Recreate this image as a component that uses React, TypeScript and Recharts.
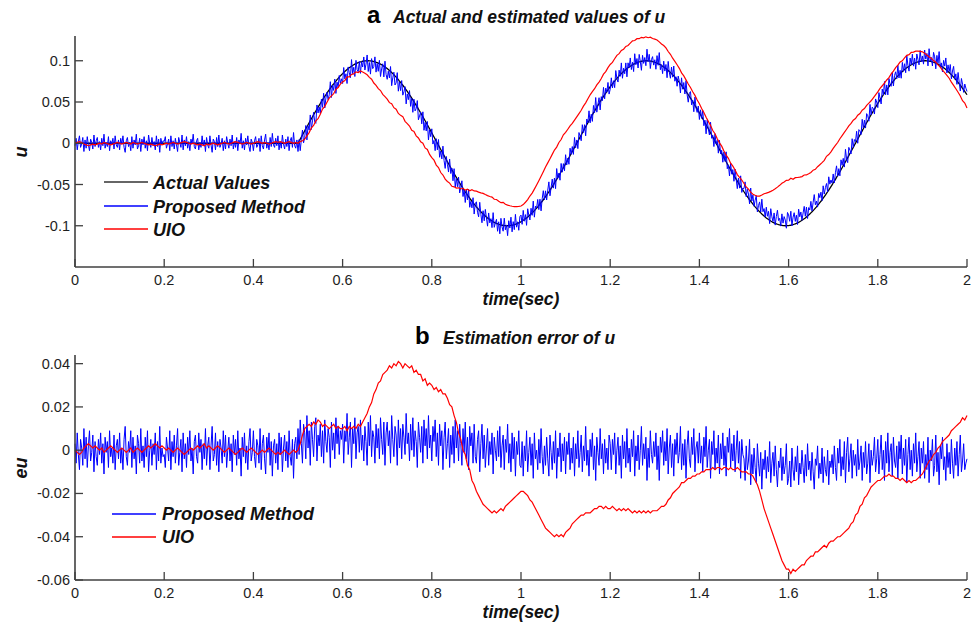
import React from "react";
import { LineChart, Line, XAxis, YAxis } from "recharts";

const FONT = '"Liberation Sans", Arial, sans-serif';
const FINE_STEP = 0.0025; // actual u and proposed-method error
const COARSE_STEP = 0.005; // UIO error

const timeTicks = [0, 0.2, 0.4, 0.6, 0.8, 1, 1.2, 1.4, 1.6, 1.8, 2];
const uTicks = [-0.1, -0.05, 0, 0.05, 0.1];
const euTicks = [-0.06, -0.04, -0.02, 0, 0.02, 0.04];

// actual u, every 0.0025 s from 0 to 2 s
const actualU = [
  // 0 - 0.4975
  0, 0, 0, 0, 0, 0, 0, 0, 0, 0, 0, 0, 0, 0, 0, 0, 0, 0, 0, 0,
  0, 0, 0, 0, 0, 0, 0, 0, 0, 0, 0, 0, 0, 0, 0, 0, 0, 0, 0, 0,
  0, 0, 0, 0, 0, 0, 0, 0, 0, 0, 0, 0, 0, 0, 0, 0, 0, 0, 0, 0,
  0, 0, 0, 0, 0, 0, 0, 0, 0, 0, 0, 0, 0, 0, 0, 0, 0, 0, 0, 0,
  0, 0, 0, 0, 0, 0, 0, 0, 0, 0, 0, 0, 0, 0, 0, 0, 0, 0, 0, 0,
  0, 0, 0, 0, 0, 0, 0, 0, 0, 0, 0, 0, 0, 0, 0, 0, 0, 0, 0, 0,
  0, 0, 0, 0, 0, 0, 0, 0, 0, 0, 0, 0, 0, 0, 0, 0, 0, 0, 0, 0,
  0, 0, 0, 0, 0, 0, 0, 0, 0, 0, 0, 0, 0, 0, 0, 0, 0, 0, 0, 0,
  0, 0, 0, 0, 0, 0, 0, 0, 0, 0, 0, 0, 0, 0, 0, 0, 0, 0, 0, 0,
  0, 0, 0, 0, 0, 0, 0, 0, 0, 0, 0, 0, 0, 0, 0, 0, 0, 0, 0, 0,
  // 0.5 - 1.1225
  0, 0.0025, 0.005, 0.0075, 0.01, 0.0125, 0.015, 0.0175, 0.02, 0.0224, 0.0249, 0.0273, 0.0297, 0.0321, 0.0345, 0.0368,
  0.0391, 0.0414, 0.0437, 0.046, 0.0482, 0.0504, 0.0525, 0.0546, 0.0567, 0.0588, 0.0608, 0.0628, 0.0647, 0.0666, 0.0685, 0.0703,
  0.072, 0.0738, 0.0754, 0.0771, 0.0786, 0.0802, 0.0816, 0.0831, 0.0844, 0.0858, 0.087, 0.0882, 0.0894, 0.0905, 0.0915, 0.0925,
  0.0934, 0.0943, 0.0951, 0.0959, 0.0965, 0.0972, 0.0977, 0.0982, 0.0987, 0.099, 0.0994, 0.0996, 0.0998, 0.0999, 0.1,
  0.1, 0.0999, 0.0998, 0.0996, 0.0994, 0.099, 0.0987, 0.0982, 0.0977, 0.0972, 0.0965, 0.0959, 0.0951, 0.0943, 0.0934, 0.0925,
  0.0915, 0.0905, 0.0894, 0.0882, 0.087, 0.0858, 0.0844, 0.0831, 0.0816, 0.0802, 0.0786, 0.0771, 0.0754, 0.0738, 0.072, 0.0703,
  0.0685, 0.0666, 0.0647, 0.0628, 0.0608, 0.0588, 0.0567, 0.0546, 0.0525, 0.0504, 0.0482, 0.046, 0.0437, 0.0414, 0.0391, 0.0368,
  0.0345, 0.0321, 0.0297, 0.0273, 0.0249, 0.0224, 0.02, 0.0175, 0.015, 0.0125, 0.01, 0.0075, 0.005, 0.0025, 0,
  -0.0025, -0.005, -0.0075, -0.01, -0.0125, -0.015, -0.0175, -0.02, -0.0224, -0.0249, -0.0273, -0.0297, -0.0321, -0.0345, -0.0368,
  -0.0391, -0.0414, -0.0437, -0.046, -0.0482, -0.0504, -0.0525, -0.0546, -0.0567, -0.0588, -0.0608, -0.0628, -0.0647, -0.0666, -0.0685, -0.0703,
  -0.072, -0.0738, -0.0754, -0.0771, -0.0786, -0.0802, -0.0816, -0.0831, -0.0844, -0.0858, -0.087, -0.0882, -0.0894, -0.0905, -0.0915, -0.0925,
  -0.0934, -0.0943, -0.0951, -0.0959, -0.0965, -0.0972, -0.0977, -0.0982, -0.0987, -0.099, -0.0994, -0.0996, -0.0998, -0.0999, -0.1,
  -0.1, -0.0999, -0.0998, -0.0996, -0.0994, -0.099, -0.0987, -0.0982, -0.0977, -0.0972, -0.0965, -0.0959, -0.0951, -0.0943, -0.0934, -0.0925,
  -0.0915, -0.0905, -0.0894, -0.0882, -0.087, -0.0858, -0.0844, -0.0831, -0.0816, -0.0802, -0.0786, -0.0771, -0.0754, -0.0738, -0.072, -0.0703,
  -0.0685, -0.0666, -0.0647, -0.0628, -0.0608, -0.0588, -0.0567, -0.0546, -0.0525, -0.0504, -0.0482, -0.046, -0.0437, -0.0414, -0.0391, -0.0368,
  -0.0345, -0.0321, -0.0297, -0.0273, -0.0249, -0.0224, -0.02, -0.0175, -0.015, -0.0125, -0.01, -0.0075, -0.005, -0.0025,
  // 1.125 - 1.7475
  0, 0.0025, 0.005, 0.0075, 0.01, 0.0125, 0.015, 0.0175, 0.02, 0.0224, 0.0249, 0.0273, 0.0297, 0.0321, 0.0345, 0.0368,
  0.0391, 0.0414, 0.0437, 0.046, 0.0482, 0.0504, 0.0525, 0.0546, 0.0567, 0.0588, 0.0608, 0.0628, 0.0647, 0.0666, 0.0685, 0.0703,
  0.072, 0.0738, 0.0754, 0.0771, 0.0786, 0.0802, 0.0816, 0.0831, 0.0844, 0.0858, 0.087, 0.0882, 0.0894, 0.0905, 0.0915, 0.0925,
  0.0934, 0.0943, 0.0951, 0.0959, 0.0965, 0.0972, 0.0977, 0.0982, 0.0987, 0.099, 0.0994, 0.0996, 0.0998, 0.0999, 0.1,
  0.1, 0.0999, 0.0998, 0.0996, 0.0994, 0.099, 0.0987, 0.0982, 0.0977, 0.0972, 0.0965, 0.0959, 0.0951, 0.0943, 0.0934, 0.0925,
  0.0915, 0.0905, 0.0894, 0.0882, 0.087, 0.0858, 0.0844, 0.0831, 0.0816, 0.0802, 0.0786, 0.0771, 0.0754, 0.0738, 0.072, 0.0703,
  0.0685, 0.0666, 0.0647, 0.0628, 0.0608, 0.0588, 0.0567, 0.0546, 0.0525, 0.0504, 0.0482, 0.046, 0.0437, 0.0414, 0.0391, 0.0368,
  0.0345, 0.0321, 0.0297, 0.0273, 0.0249, 0.0224, 0.02, 0.0175, 0.015, 0.0125, 0.01, 0.0075, 0.005, 0.0025, 0,
  -0.0025, -0.005, -0.0075, -0.01, -0.0125, -0.015, -0.0175, -0.02, -0.0224, -0.0249, -0.0273, -0.0297, -0.0321, -0.0345, -0.0368,
  -0.0391, -0.0414, -0.0437, -0.046, -0.0482, -0.0504, -0.0525, -0.0546, -0.0567, -0.0588, -0.0608, -0.0628, -0.0647, -0.0666, -0.0685, -0.0703,
  -0.072, -0.0738, -0.0754, -0.0771, -0.0786, -0.0802, -0.0816, -0.0831, -0.0844, -0.0858, -0.087, -0.0882, -0.0894, -0.0905, -0.0915, -0.0925,
  -0.0934, -0.0943, -0.0951, -0.0959, -0.0965, -0.0972, -0.0977, -0.0982, -0.0987, -0.099, -0.0994, -0.0996, -0.0998, -0.0999, -0.1,
  -0.1, -0.0999, -0.0998, -0.0996, -0.0994, -0.099, -0.0987, -0.0982, -0.0977, -0.0972, -0.0965, -0.0959, -0.0951, -0.0943, -0.0934, -0.0925,
  -0.0915, -0.0905, -0.0894, -0.0882, -0.087, -0.0858, -0.0844, -0.0831, -0.0816, -0.0802, -0.0786, -0.0771, -0.0754, -0.0738, -0.072, -0.0703,
  -0.0685, -0.0666, -0.0647, -0.0628, -0.0608, -0.0588, -0.0567, -0.0546, -0.0525, -0.0504, -0.0482, -0.046, -0.0437, -0.0414, -0.0391, -0.0368,
  -0.0345, -0.0321, -0.0297, -0.0273, -0.0249, -0.0224, -0.02, -0.0175, -0.015, -0.0125, -0.01, -0.0075, -0.005, -0.0025,
  // 1.75 - 2.0
  0, 0.0025, 0.005, 0.0075, 0.01, 0.0125, 0.015, 0.0175, 0.02, 0.0224, 0.0249, 0.0273, 0.0297, 0.0321, 0.0345, 0.0368,
  0.0391, 0.0414, 0.0437, 0.046, 0.0482, 0.0504, 0.0525, 0.0546, 0.0567, 0.0588, 0.0608, 0.0628, 0.0647, 0.0666, 0.0685, 0.0703,
  0.072, 0.0738, 0.0754, 0.0771, 0.0786, 0.0802, 0.0816, 0.0831, 0.0844, 0.0858, 0.087, 0.0882, 0.0894, 0.0905, 0.0915, 0.0925,
  0.0934, 0.0943, 0.0951, 0.0959, 0.0965, 0.0972, 0.0977, 0.0982, 0.0987, 0.099, 0.0994, 0.0996, 0.0998, 0.0999, 0.1,
  0.1, 0.0999, 0.0998, 0.0996, 0.0994, 0.099, 0.0987, 0.0982, 0.0977, 0.0972, 0.0965, 0.0959, 0.0951, 0.0943, 0.0934, 0.0925,
  0.0915, 0.0905, 0.0894, 0.0882, 0.087, 0.0858, 0.0844, 0.0831, 0.0816, 0.0802, 0.0786, 0.0771, 0.0754, 0.0738, 0.072, 0.0703,
  0.0685, 0.0666, 0.0647, 0.0628, 0.0608, 0.0588,
];

// proposed method error (actual - estimate), every 0.0025 s
const errProposed = [
  0.003, -0.006, 0.008, -0.002, -0.009, 0.005, 0.001, -0.007, 0.01, -0.004, 0.006, -0.008, 0.002, 0.009, -0.005, -0.001, 0.007, -0.01, 0.004, -0.003,
  -0.007, 0.005, -0.002, 0.008, -0.006, 0.003, -0.011, 0.006, -0.001, 0.004, -0.008, 0.009, -0.003, 0.001, -0.006, 0.007, -0.009, 0.002, 0.005, -0.004,
  0.008, -0.006, 0.001, -0.009, 0.005, 0.011, -0.003, -0.007, 0.004, -0.001, 0.009, -0.008, 0.006, -0.004, 0.002, -0.011, 0.007, 0.003, -0.006, 0.01,
  -0.005, 0.002, -0.008, 0.006, -0.003, 0.009, -0.01, 0, 0.005, -0.007, 0.003, -0.002, 0.008, -0.009, 0.004, -0.005, 0.011, -0.006, 0.001, -0.003,
  -0.002, -0.008, 0.006, 0.001, -0.005, 0.009, -0.009, 0.004, -0.003, 0.007, -0.006, 0.002, 0.01, -0.007, -0.001, 0.005, -0.01, 0.008, -0.004, 0.003,
  -0.008, 0.006, -0.002, 0.009, -0.005, 0.001, -0.011, 0.004, 0.007, -0.003, -0.006, 0.008, -0.001, 0.005, -0.009, 0.003, -0.004, 0.01, -0.007, 0.002,
  0.006, -0.009, 0.002, 0.011, -0.005, -0.002, 0.008, -0.007, 0.004, -0.01, 0.005, 0.001, -0.006, 0.009, -0.003, 0.007, -0.008, 0, 0.006, -0.005,
  0.003, -0.01, 0.007, -0.002, 0.005, -0.007, 0.009, -0.004, 0.001, -0.012, 0.006, -0.003, 0.008, -0.006, 0.002, -0.009, 0.004, 0.01, -0.005, -0.001,
  0.009, -0.003, -0.008, 0.005, 0.002, -0.006, 0.01, -0.009, 0.003, 0.007, -0.004, -0.011, 0.006, -0.001, 0.008, -0.007, 0.004, -0.012, 0.002, 0.005,
  -0.006, 0.003, -0.009, 0.008, -0.002, 0.006, -0.01, 0.001, 0.007, -0.005, 0.004, -0.008, 0.009, -0.003, -0.007, 0.005, -0.013, 0.003, 0.006, -0.004,
  0.01, -0.002, 0.014, 0.003, -0.006, 0.012, 0.008, -0.004, 0.016, 0.001, 0.009, -0.007, 0.013, 0.005, -0.003, 0.011, 0.015, -0.005, 0.007, 0.002,
  0.012, -0.003, 0.009, -0.006, 0.014, 0.004, -0.001, 0.01, 0.006, -0.008, 0.013, 0, 0.008, -0.004, 0.015, 0.003, 0.011, -0.002, 0.009, 0.005,
  0.012, -0.006, 0.009, 0.004, 0.017, -0.002, 0.006, 0.013, -0.008, 0.01, 0.003, 0.015, -0.004, 0.008, 0.011, -0.001, 0.014, 0, 0.007, -0.005,
  0.011, 0.004, -0.007, 0.013, 0.002, 0.016, -0.003, 0.009, 0.006, -0.006, 0.012, 0.001, 0.01, -0.004, 0.015, 0.005, -0.002, 0.013, -0.007, 0.008,
  0.013, 0.002, 0.009, -0.006, 0.016, 0.005, -0.003, 0.011, 0.007, -0.007, 0.014, 0.001, 0.01, -0.004, 0.012, 0.006, -0.002, 0.017, 0.003, 0.008,
  -0.005, 0.012, 0, 0.015, -0.003, 0.009, 0.004, -0.008, 0.013, 0.006, -0.001, 0.011, -0.006, 0.014, 0.002, 0.01, -0.004, 0.016, 0.001, 0.007,
  -0.005, 0.011, 0.004, 0.014, -0.003, 0.008, -0.007, 0.012, 0.002, 0.009, -0.009, 0.006, 0.013, -0.004, 0.003, 0.01, -0.008, 0.007, -0.002, 0.011,
  -0.006, 0.014, 0.001, 0.009, -0.005, 0.012, 0.003, -0.007, 0.01, -0.001, 0.013, -0.004, 0.006, -0.009, 0.011, 0.002, 0.008, -0.006, 0.012, -0.003,
  -0.006, 0.005, 0.009, -0.01, 0.003, 0.012, -0.004, 0.007, -0.008, 0.001, 0.01, -0.007, 0.004, -0.002, 0.008, -0.011, 0.006, 0, -0.005, 0.009,
  -0.003, 0.011, -0.008, 0.002, 0.007, -0.009, 0.005, -0.001, 0.012, -0.006, 0.003, -0.01, 0.008, -0.004, 0.006, -0.012, 0.004, -0.002, 0.009, -0.007,
  -0.008, 0.004, -0.012, 0.002, -0.005, 0.009, -0.01, -0.001, 0.006, -0.007, 0.003, -0.013, 0.008, -0.004, 0, -0.009, 0.005, -0.006, 0.01, -0.003,
  -0.011, 0.002, -0.007, 0.006, -0.004, -0.012, 0.007, -0.001, -0.009, 0.004, -0.006, 0.009, -0.013, 0.001, -0.003, 0.008, -0.01, 0.003, -0.005, 0.006,
  -0.011, 0.004, -0.002, 0.008, -0.009, 0.001, -0.006, 0.006, -0.012, 0.003, -0.004, 0.009, -0.008, -0.001, 0.007, -0.01, 0.002, -0.005, 0.011, -0.007,
  0, -0.012, 0.005, -0.003, 0.008, -0.009, 0.002, -0.014, 0.006, -0.001, -0.007, 0.01, -0.004, 0.003, -0.011, 0.005, -0.006, 0.001, -0.009, 0.007,
  0.003, -0.009, 0.005, -0.002, 0.008, -0.011, 0, 0.006, -0.007, 0.002, -0.013, 0.007, -0.004, 0.004, -0.008, 0.01, -0.006, 0.001, -0.01, 0.005,
  -0.003, 0.009, -0.012, 0.002, -0.005, 0.007, -0.009, 0, 0.011, -0.007, 0.003, -0.004, 0.006, -0.014, 0.001, -0.008, 0.009, -0.002, -0.006, 0.004,
  -0.003, 0.008, -0.009, 0.002, -0.014, 0.006, -0.001, 0.009, -0.007, 0.004, -0.005, 0.01, -0.011, 0.001, 0.007, -0.008, 0.003, -0.012, 0.005, -0.002,
  0.008, -0.006, -0.001, 0.011, -0.009, 0.003, -0.007, 0.005, -0.013, 0.002, 0.009, -0.004, -0.008, 0.006, -0.002, 0.01, -0.01, 0.001, 0.004, -0.006,
  0.008, -0.006, 0.002, -0.01, 0.006, -0.003, 0.011, -0.008, 0, 0.005, -0.013, 0.004, -0.002, 0.009, -0.009, 0.001, -0.006, 0.007, -0.011, 0.003,
  -0.004, 0.008, -0.007, 0.002, -0.012, 0.006, -0.001, 0.01, -0.008, 0.003, -0.005, 0.007, -0.01, 0, 0.009, -0.006, 0.004, -0.013, 0.005, -0.002,
  -0.004, -0.014, 0.002, -0.009, -0.005, 0.005, -0.016, -0.002, -0.011, 0.001, -0.008, -0.015, 0.003, -0.006, -0.012, -0.001, -0.018, -0.004, -0.009, 0,
  -0.013, -0.003, -0.01, 0.004, -0.015, -0.006, -0.001, -0.012, 0.002, -0.009, -0.017, -0.005, -0.008, 0.001, -0.014, -0.003, -0.011, -0.007, 0.003, -0.016,
  -0.013, -0.005, -0.017, 0.001, -0.009, -0.014, -0.003, -0.01, 0.002, -0.016, -0.006, -0.011, 0, -0.008, -0.015, -0.002, -0.012, 0.003, -0.009, -0.005,
  -0.014, -0.001, -0.01, -0.018, -0.004, -0.007, 0.002, -0.013, -0.006, -0.011, 0.001, -0.015, -0.003, -0.009, -0.012, 0, -0.016, -0.005, -0.008, -0.002,
  -0.011, 0.002, -0.008, -0.014, 0.001, -0.006, 0.005, -0.012, -0.003, -0.009, 0.004, -0.015, -0.001, 0.006, -0.01, -0.004, 0.003, -0.013, 0, -0.007,
  -0.002, -0.012, 0.005, -0.009, -0.005, 0.002, -0.014, -0.001, -0.008, 0.004, -0.011, -0.006, 0.003, -0.015, 0, -0.007, -0.003, 0.006, -0.01, -0.004,
  0.005, -0.011, -0.002, 0.007, -0.009, 0, -0.014, 0.004, -0.006, 0.008, -0.01, -0.001, 0.003, -0.012, 0.006, -0.005, -0.008, 0.002, -0.013, 0.004,
  -0.004, 0.007, -0.011, 0.001, -0.007, 0.005, -0.015, -0.002, 0.006, -0.009, 0, -0.012, 0.003, -0.006, 0.008, -0.01, -0.003, 0.004, -0.013, 0.001,
  -0.006, 0.004, -0.013, -0.002, -0.009, 0.006, -0.015, 0, -0.005, 0.005, -0.012, -0.007, 0.007, -0.01, -0.001, -0.016, 0.002, -0.004, 0.006, -0.009,
  -0.003, -0.014, 0.003, -0.008, -0.001, -0.011, 0.005, -0.006, -0.013, 0.001, -0.007, 0.004, -0.012, -0.002, 0.007, -0.01, -0.005, 0.003, -0.009, -0.006,
  -0.004,
];

// UIO error (actual - estimate), every 0.005 s
const errUio = [
  0, -0.001, -0.002, -0.001, 0.001, 0.002, 0.003, 0.002, 0.001, 0.002, 0.001, 0, 0.001, -0.001, 0, 0.001, 0.002, 0.001, 0, -0.001,
  0, 0.001, 0, -0.001, 0, 0.001, -0.001, 0, 0.001, 0, -0.001, 0, 0.001, 0.002, 0.001, 0.002, 0.003, 0.002, 0.001, 0.002,
  0.001, 0, 0.001, 0, -0.001, 0, 0.001, 0, -0.001, -0.002, -0.001, 0, 0.001, 0, 0.001, 0.002, 0.001, 0.002, 0.003, 0.001,
  0.002, 0.001, 0, 0.001, 0.002, 0.001, 0, -0.001, 0, 0.001, 0, -0.001, -0.002, -0.001, 0, 0.001, 0, -0.001, 0, 0.001,
  0, -0.001, -0.002, -0.001, 0, -0.001, 0, 0.001, 0, -0.001, -0.002, -0.001, -0.002, -0.001, 0, -0.001, -0.002, -0.001, 0, -0.001,
  0, 0.003, 0.007, 0.01, 0.011, 0.012, 0.011, 0.013, 0.012, 0.014, 0.013, 0.011, 0.012, 0.011, 0.01, 0.011, 0.012, 0.01, 0.011, 0.01,
  0.01, 0.011, 0.009, 0.011, 0.01, 0.011, 0.01, 0.012, 0.011, 0.013, 0.015, 0.017, 0.02, 0.022, 0.026, 0.028, 0.031, 0.032, 0.035, 0.036,
  0.037, 0.039, 0.038, 0.04, 0.039, 0.041, 0.04, 0.038, 0.04, 0.039, 0.038, 0.039, 0.036, 0.037, 0.035, 0.035, 0.032, 0.033, 0.03, 0.031,
  0.03, 0.028, 0.029, 0.027, 0.028, 0.026, 0.026, 0.024, 0.021, 0.02, 0.016, 0.013, 0.008, 0.005, 0, -0.002, -0.007, -0.009, -0.014, -0.016,
  -0.019, -0.021, -0.023, -0.025, -0.026, -0.027, -0.028, -0.029, -0.028, -0.029, -0.028, -0.027, -0.028, -0.026, -0.025, -0.024, -0.023, -0.022, -0.021, -0.02,
  -0.019, -0.019, -0.02, -0.021, -0.023, -0.024, -0.026, -0.028, -0.03, -0.032, -0.034, -0.036, -0.037, -0.038, -0.039, -0.04, -0.039, -0.04, -0.039, -0.04,
  -0.038, -0.037, -0.036, -0.034, -0.033, -0.032, -0.031, -0.03, -0.03, -0.029, -0.029, -0.029, -0.028, -0.027, -0.027, -0.026, -0.026, -0.027, -0.026, -0.027,
  -0.027, -0.026, -0.027, -0.028, -0.027, -0.028, -0.027, -0.028, -0.027, -0.028, -0.029, -0.028, -0.029, -0.028, -0.029, -0.028, -0.029, -0.028, -0.029, -0.028,
  -0.028, -0.028, -0.027, -0.026, -0.026, -0.025, -0.023, -0.022, -0.02, -0.019, -0.018, -0.017, -0.015, -0.015, -0.014, -0.013, -0.013, -0.012, -0.012, -0.011,
  -0.011, -0.01, -0.01, -0.009, -0.009, -0.009, -0.008, -0.009, -0.008, -0.008, -0.009, -0.008, -0.008, -0.009, -0.008, -0.009, -0.009, -0.008, -0.009, -0.01,
  -0.01, -0.01, -0.011, -0.011, -0.012, -0.014, -0.016, -0.019, -0.023, -0.027, -0.03, -0.033, -0.036, -0.039, -0.042, -0.045, -0.048, -0.051, -0.053, -0.055,
  -0.055, -0.057, -0.055, -0.056, -0.055, -0.054, -0.053, -0.053, -0.051, -0.05, -0.049, -0.049, -0.047, -0.047, -0.046, -0.045, -0.044, -0.045, -0.043, -0.042,
  -0.042, -0.041, -0.04, -0.04, -0.039, -0.038, -0.037, -0.036, -0.034, -0.033, -0.03, -0.029, -0.026, -0.025, -0.022, -0.021, -0.019, -0.017, -0.016, -0.015,
  -0.014, -0.014, -0.013, -0.012, -0.012, -0.011, -0.012, -0.012, -0.013, -0.013, -0.014, -0.013, -0.014, -0.015, -0.014, -0.015, -0.014, -0.014, -0.013, -0.012,
  -0.011, -0.009, -0.007, -0.005, -0.004, -0.002, -0.001, 0.001, 0.002, 0.004, 0.005, 0.006, 0.007, 0.009, 0.01, 0.011, 0.012, 0.013, 0.015, 0.014,
  0.016,
];

const fineRows = actualU.map((a, i) => ({
  t: Math.round(i * FINE_STEP * 10000) / 10000,
  actual: a,
  proposed: a - (errProposed[i] ?? 0),
  eProposed: errProposed[i] ?? 0,
}));

const coarseRows = errUio.map((e, i) => ({
  t: Math.round(i * COARSE_STEP * 10000) / 10000,
  uio: (actualU[i * 2] ?? 0) - e,
  eUio: e,
}));

const AXIS = "#404040";
const TEXT = "#1e1e1e";

const YTick = (props: any) => {
  const { x, y, payload } = props;
  return (
    <g>
      <line x1={x} x2={x + 8} y1={y} y2={y} stroke={AXIS} strokeWidth={1.3} />
      <text x={x - 5} y={y + 5} textAnchor="end" fontSize={14.5} fontFamily={FONT} fill={TEXT}>
        {payload.value}
      </text>
    </g>
  );
};

const XTick = (props: any) => {
  const { x, y, payload } = props;
  return (
    <g>
      <line x1={x} x2={x} y1={y} y2={y - 8} stroke={AXIS} strokeWidth={1.3} />
      <text x={x} y={y + 18} textAnchor="middle" fontSize={14.5} fontFamily={FONT} fill={TEXT}>
        {payload.value}
      </text>
    </g>
  );
};

const axisLine = { stroke: AXIS, strokeWidth: 1.6 };

const labelText = { fontFamily: FONT, fontSize: 18, fontWeight: 700, fontStyle: "italic" as const, fill: "#111" };

export default function App() {
  return (
    <div style={{ position: "absolute", left: 0, top: 0, width: 980, height: 626, background: "#fff" }}>
      <div style={{ position: "absolute", left: 0, top: 0 }}>
        <LineChart width={980} height={310} margin={{ top: 36, right: 13, bottom: 0, left: 0 }}>
          <XAxis dataKey="t" type="number" domain={[0, 2]} ticks={timeTicks} interval={0} height={43}
            tickSize={0} tickMargin={0} tickLine={false} axisLine={axisLine} tick={XTick} />
          <YAxis type="number" domain={[-0.15, 0.13]} ticks={uTicks} interval={0} width={75} allowDataOverflow
            tickSize={0} tickMargin={0} tickLine={false} axisLine={axisLine} tick={YTick} />
          <Line data={fineRows} dataKey="actual" stroke="#000000" strokeWidth={1.3} dot={false} isAnimationActive={false} />
          <Line data={fineRows} dataKey="proposed" stroke="#0000ff" strokeWidth={1} dot={false} isAnimationActive={false} />
          <Line data={coarseRows} dataKey="uio" stroke="#ff0000" strokeWidth={1.2} dot={false} isAnimationActive={false} />
        </LineChart>
      </div>
      <div style={{ position: "absolute", left: 0, top: 310 }}>
        <LineChart width={980} height={316} margin={{ top: 45, right: 13, bottom: 0, left: 0 }}>
          <XAxis dataKey="t" type="number" domain={[0, 2]} ticks={timeTicks} interval={0} height={46}
            tickSize={0} tickMargin={0} tickLine={false} axisLine={axisLine} tick={XTick} />
          <YAxis type="number" domain={[-0.06, 0.044]} ticks={euTicks} interval={0} width={75} allowDataOverflow
            tickSize={0} tickMargin={0} tickLine={false} axisLine={axisLine} tick={YTick} />
          <Line data={fineRows} dataKey="eProposed" stroke="#0000ff" strokeWidth={1} dot={false} isAnimationActive={false} />
          <Line data={coarseRows} dataKey="eUio" stroke="#ff0000" strokeWidth={1.2} dot={false} isAnimationActive={false} />
        </LineChart>
      </div>
      <svg width={980} height={626} style={{ position: "absolute", left: 0, top: 0, pointerEvents: "none" }}>
        <text x={367} y={23} fontFamily={FONT} fontSize={24} fontWeight={700} fill="#000">a</text>
        <text x={393} y={23} {...labelText} fontSize={17.5}>Actual and estimated values of u</text>
        <text x={415} y={344} fontFamily={FONT} fontSize={24} fontWeight={700} fill="#000">b</text>
        <text x={443} y={344} {...labelText} fontSize={17.5}>Estimation error of u</text>
        <text x={521} y={305} textAnchor="middle" {...labelText} fontSize={17.5}>time(sec)</text>
        <text x={521} y={618} textAnchor="middle" {...labelText} fontSize={17.5}>time(sec)</text>
        <text transform="translate(27,152) rotate(-90)" textAnchor="middle" {...labelText}>u</text>
        <text transform="translate(27,468) rotate(-90)" textAnchor="middle" {...labelText}>eu</text>
        <line x1={104} x2={148} y1={182} y2={182} stroke="#333" strokeWidth={1.6} />
        <text x={153} y={189} {...labelText}>Actual Values</text>
        <line x1={104} x2={148} y1={206} y2={206} stroke="#0000ff" strokeWidth={1.6} />
        <text x={153} y={213} {...labelText}>Proposed Method</text>
        <line x1={104} x2={148} y1={229} y2={229} stroke="#ff0000" strokeWidth={1.6} />
        <text x={153} y={236} {...labelText}>UIO</text>
        <line x1={112} x2={156} y1={514} y2={514} stroke="#0000ff" strokeWidth={1.6} />
        <text x={162} y={520} {...labelText}>Proposed Method</text>
        <line x1={112} x2={156} y1={537} y2={537} stroke="#ff0000" strokeWidth={1.6} />
        <text x={162} y={543} {...labelText}>UIO</text>
      </svg>
    </div>
  );
}
